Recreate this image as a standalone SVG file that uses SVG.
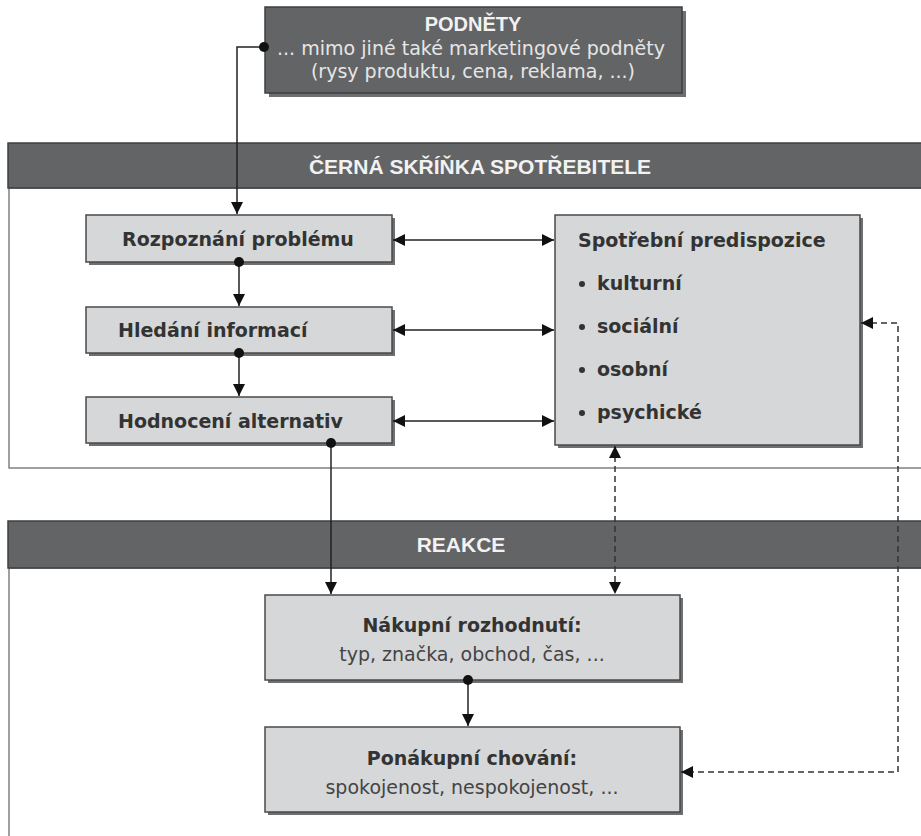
<svg xmlns="http://www.w3.org/2000/svg" width="921" height="836" viewBox="0 0 921 836">
<style>
.hdr{fill:#636465;stroke:#3e3f40;stroke-width:1.5}
.frame{fill:#ffffff;stroke:#808080;stroke-width:1.5}
.box{fill:#d6d7d8;stroke:#4a4a4a;stroke-width:1.5}
.shadow{fill:#6e6f70}
.ht{font-family:"Liberation Sans",Arial,sans-serif;font-weight:bold;fill:#f2f2f2;text-anchor:middle}
.st{font-family:"DejaVu Sans",sans-serif;fill:#e6e6e6;font-size:19px;text-anchor:middle}
.bt{font-family:"DejaVu Sans",sans-serif;font-weight:bold;fill:#333;font-size:19px}
.nt{font-family:"DejaVu Sans",sans-serif;fill:#444;font-size:19px;text-anchor:middle}
.ln{stroke:#222;stroke-width:1.5;fill:none}
.dl{stroke:#333;stroke-width:1.5;fill:none;stroke-dasharray:6,4}
</style>
<defs>
<marker id="ah" viewBox="0 0 12 12" refX="12" refY="6" markerWidth="12" markerHeight="12" markerUnits="userSpaceOnUse" orient="auto-start-reverse">
<path d="M0,0 L12,6 L0,12 Z" fill="#111"/>
</marker>
</defs>
<rect width="921" height="836" fill="#ffffff"/>

<g id="cerna-skrinka">
<rect class="frame" x="9" y="188" width="920" height="280"/>
<rect class="hdr" x="8" y="143" width="920" height="45"/>
<text class="ht" x="480" y="174" font-size="21">ČERNÁ SKŘÍŇKA SPOTŘEBITELE</text>
</g>

<g id="reakce">
<rect class="frame" x="9" y="568" width="920" height="280"/>
<rect class="hdr" x="8" y="521" width="920" height="47"/>
<text class="ht" x="461" y="552" font-size="21">REAKCE</text>
</g>

<g id="podnety">
<rect class="shadow" x="269" y="11" width="417" height="86"/>
<rect class="hdr" x="265" y="7" width="417" height="86"/>
<text class="ht" x="473" y="31" font-size="20">PODNĚTY</text>
<text class="st" x="471" y="55" textLength="388" lengthAdjust="spacingAndGlyphs">... mimo jiné také marketingové podněty</text>
<text class="st" x="473" y="78">(rysy produktu, cena, reklama, ...)</text>
</g>

<g id="rozpoznani">
<rect class="shadow" x="89" y="218" width="306" height="47"/>
<rect class="box" x="86" y="215" width="306" height="47"/>
<text class="bt" x="238" y="246" text-anchor="middle">Rozpoznání problému</text>
</g>

<g id="hledani">
<rect class="shadow" x="89" y="310" width="306" height="46"/>
<rect class="box" x="86" y="307" width="306" height="46"/>
<text class="bt" x="118" y="337">Hledání informací</text>
</g>

<g id="hodnoceni">
<rect class="shadow" x="89" y="400" width="306" height="46"/>
<rect class="box" x="86" y="397" width="306" height="46"/>
<text class="bt" x="118" y="428">Hodnocení alternativ</text>
</g>

<g id="predispozice">
<rect class="shadow" x="558" y="218" width="305" height="230"/>
<rect class="box" x="555" y="215" width="305" height="230"/>
<text class="bt" x="578" y="247">Spotřební predispozice</text>
<circle cx="582" cy="284" r="3" fill="#333"/>
<text class="bt" x="597" y="290">kulturní</text>
<circle cx="582" cy="327" r="3" fill="#333"/>
<text class="bt" x="597" y="333">sociální</text>
<circle cx="582" cy="370" r="3" fill="#333"/>
<text class="bt" x="597" y="376">osobní</text>
<circle cx="582" cy="413" r="3" fill="#333"/>
<text class="bt" x="597" y="419">psychické</text>
</g>

<g id="nakupni">
<rect class="shadow" x="268" y="598" width="415" height="85"/>
<rect class="box" x="265" y="595" width="415" height="85"/>
<text class="bt" x="472" y="632" text-anchor="middle">Nákupní rozhodnutí:</text>
<text class="nt" x="472" y="661">typ, značka, obchod, čas, ...</text>
</g>

<g id="ponakupni">
<rect class="shadow" x="268" y="730" width="415" height="85"/>
<rect class="box" x="265" y="727" width="415" height="85"/>
<text class="bt" x="472" y="765" text-anchor="middle">Ponákupní chování:</text>
<text class="nt" x="472" y="794">spokojenost, nespokojenost, ...</text>
</g>

<g id="connectors">
<path class="ln" d="M264,47 H237 V214" marker-end="url(#ah)"/>
<circle cx="264" cy="47" r="5" fill="#111"/>
<path class="ln" d="M239,262 V306" marker-end="url(#ah)"/>
<circle cx="239" cy="262" r="5" fill="#111"/>
<path class="ln" d="M239,353 V396" marker-end="url(#ah)"/>
<circle cx="239" cy="353" r="5" fill="#111"/>
<path class="ln" d="M331,443 V594" marker-end="url(#ah)"/>
<circle cx="331" cy="443" r="5" fill="#111"/>
<path class="ln" d="M393,240 H554" marker-start="url(#ah)" marker-end="url(#ah)"/>
<path class="ln" d="M393,330 H554" marker-start="url(#ah)" marker-end="url(#ah)"/>
<path class="ln" d="M393,421 H554" marker-start="url(#ah)" marker-end="url(#ah)"/>
<path class="dl" d="M615,446 V594" marker-start="url(#ah)" marker-end="url(#ah)"/>
<path class="dl" d="M861,323 H898 V772 H681" marker-start="url(#ah)" marker-end="url(#ah)"/>
<path class="ln" d="M468,680 V726" marker-end="url(#ah)"/>
<circle cx="468" cy="680" r="5" fill="#111"/>
</g>
</svg>
